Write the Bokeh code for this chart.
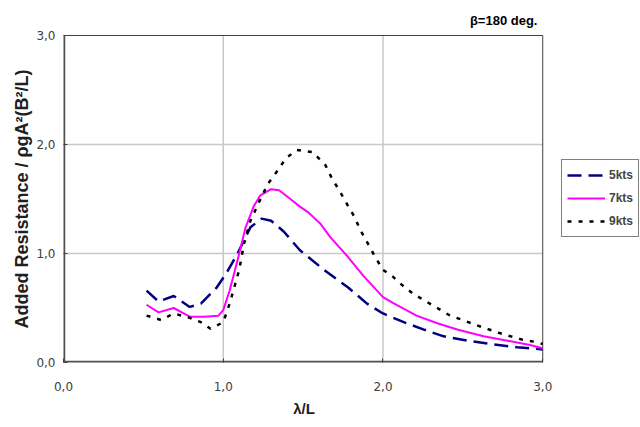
from bokeh.plotting import figure
from bokeh.models import Legend, LegendItem, Label, CustomJSTickFormatter, FixedTicker, Range1d
from bokeh.embed import file_html
from bokeh.resources import INLINE

# ---- data ----
x5 = [0.52, 0.595, 0.69, 0.79, 0.86, 0.96, 1.02, 1.09, 1.17, 1.24, 1.30, 1.38, 1.48, 1.63,
      1.78, 1.90, 2.00, 2.13, 2.26, 2.38, 2.53, 2.67, 2.84, 3.0]
y5 = [0.66, 0.56, 0.61, 0.51, 0.54, 0.69, 0.82, 1.00, 1.24, 1.32, 1.30, 1.20, 1.03, 0.85,
      0.69, 0.54, 0.45, 0.37, 0.30, 0.24, 0.20, 0.17, 0.14, 0.12]

x7 = [0.52, 0.595, 0.69, 0.79, 0.88, 0.97, 1.0, 1.04, 1.09, 1.14, 1.19, 1.23, 1.30, 1.35,
      1.42, 1.48, 1.53, 1.61, 1.67, 1.78, 1.88, 2.0, 2.07, 2.21, 2.34, 2.47, 2.63, 2.78, 2.92, 3.0]
y7 = [0.53, 0.46, 0.50, 0.42, 0.42, 0.43, 0.48, 0.66, 0.94, 1.24, 1.43, 1.53, 1.59, 1.58,
      1.50, 1.43, 1.38, 1.27, 1.15, 0.97, 0.79, 0.60, 0.54, 0.43, 0.36, 0.30, 0.24, 0.20, 0.16, 0.13]

x9 = [0.52, 0.61, 0.69, 0.79, 0.86, 0.92, 1.0, 1.04, 1.10, 1.13, 1.17, 1.23, 1.28, 1.34,
      1.39, 1.46, 1.56, 1.64, 1.68, 1.73, 1.78, 1.82, 1.86, 1.91, 1.95, 2.0, 2.06, 2.12,
      2.19, 2.27, 2.34, 2.42, 2.50, 2.57, 2.65, 2.73, 2.80, 2.87, 2.95, 3.0]
y9 = [0.43, 0.39, 0.45, 0.41, 0.37, 0.31, 0.37, 0.54, 0.85, 1.09, 1.30, 1.49, 1.64, 1.76,
      1.87, 1.95, 1.93, 1.81, 1.69, 1.57, 1.44, 1.34, 1.21, 1.08, 0.97, 0.85, 0.79, 0.71,
      0.63, 0.56, 0.50, 0.43, 0.39, 0.35, 0.31, 0.27, 0.24, 0.21, 0.19, 0.17]

ticks = [0, 1, 2, 3]
series_labels = ["5kts", "7kts", "9kts"]
title_text = "β=180 deg."
x_title = "λ/L"
y_title = "Added Resistance / ρgA²(B²/L)"

NB = "\u00a0"
lo, hi = ticks[0], ticks[-1]
inner = ticks[1:-1]

# frame covers the whole right part of the canvas so legend and title are drawn inside it
p = figure(frame_width=577, frame_height=362, title=None,
           output_backend="svg", toolbar_location=None,
           x_range=Range1d(0, 3.612), y_range=Range1d(0, 3.321),
           min_border_left=63, min_border_right=0, min_border_top=0, min_border_bottom=65)
p.background_fill_color = "white"
p.border_fill_color = "white"
p.outline_line_color = None
p.xgrid.visible = False
p.ygrid.visible = False

fmt = CustomJSTickFormatter(code="return tick.toFixed(1).replace('.', ',');")
for ax in (p.xaxis[0], p.yaxis[0]):
    ax.ticker = FixedTicker(ticks=ticks)
    ax.formatter = fmt
    ax.minor_tick_line_color = None
    ax.major_tick_in = 4
    ax.major_tick_out = 0
    ax.major_tick_line_color = "#404040"
    ax.axis_line_color = None
    ax.major_label_text_font = "DejaVu Sans"
    ax.major_label_text_font_size = "12px"
    ax.major_label_text_color = "#404040"
    ax.axis_label_text_font = "Liberation Sans"
    ax.axis_label_text_font_style = "bold"
    ax.axis_label_text_color = "#202020"

p.xaxis.axis_label = x_title + NB * 23
p.xaxis.axis_label_text_font_size = "15px"
p.xaxis.major_label_standoff = 19
p.xaxis.axis_label_standoff = 6
p.yaxis.axis_label = y_title + NB * 7
p.yaxis.axis_label_text_font_size = "18px"
p.yaxis.major_label_standoff = 8
p.yaxis.axis_label_standoff = 1

# grid lines at the inner ticks
p.segment(x0=inner, y0=[lo] * len(inner), x1=inner, y1=[hi] * len(inner),
          line_color="#c8c8c8", line_width=1.5)
p.segment(x0=[lo] * len(inner), y0=inner, x1=[hi] * len(inner), y1=inner,
          line_color="#c8c8c8", line_width=1.5)
# plot-area border: top/right thin, left/bottom axis lines thicker
p.line([lo, hi, hi], [hi, hi, lo], line_color="#404040", line_width=1)
p.line([lo, lo, hi], [hi, lo, lo], line_color="#505050", line_width=3.5)

r5 = p.line(x5, y5, line_color="#000080", line_width=2.5, line_dash="14 7")
r7 = p.line(x7, y7, line_color="#ff00ff", line_width=2)
r9 = p.line(x9, y9, line_color="black", line_width=2.5, line_dash="4 7")

legend = Legend(items=[LegendItem(label=series_labels[0], renderers=[r5]),
                       LegendItem(label=series_labels[1], renderers=[r7]),
                       LegendItem(label=series_labels[2], renderers=[r9])],
                location=(498, 125))
legend.border_line_color = "black"
legend.border_line_width = 1
legend.background_fill_color = "white"
legend.padding = 5
legend.margin = 0
legend.spacing = 3
legend.label_height = 20
legend.glyph_height = 20
legend.glyph_width = 38
legend.label_standoff = 4
legend.label_text_font = "Liberation Sans"
legend.label_text_font_style = "bold"
legend.label_text_font_size = "12px"
p.add_layout(legend)

p.add_layout(Label(x=2.967, y=3.137, text=title_text, text_align="right",
                   text_baseline="middle", text_font="Liberation Sans",
                   text_font_style="bold", text_font_size="13px", text_color="black"))

open("out.html", "w").write(file_html(p, INLINE))
